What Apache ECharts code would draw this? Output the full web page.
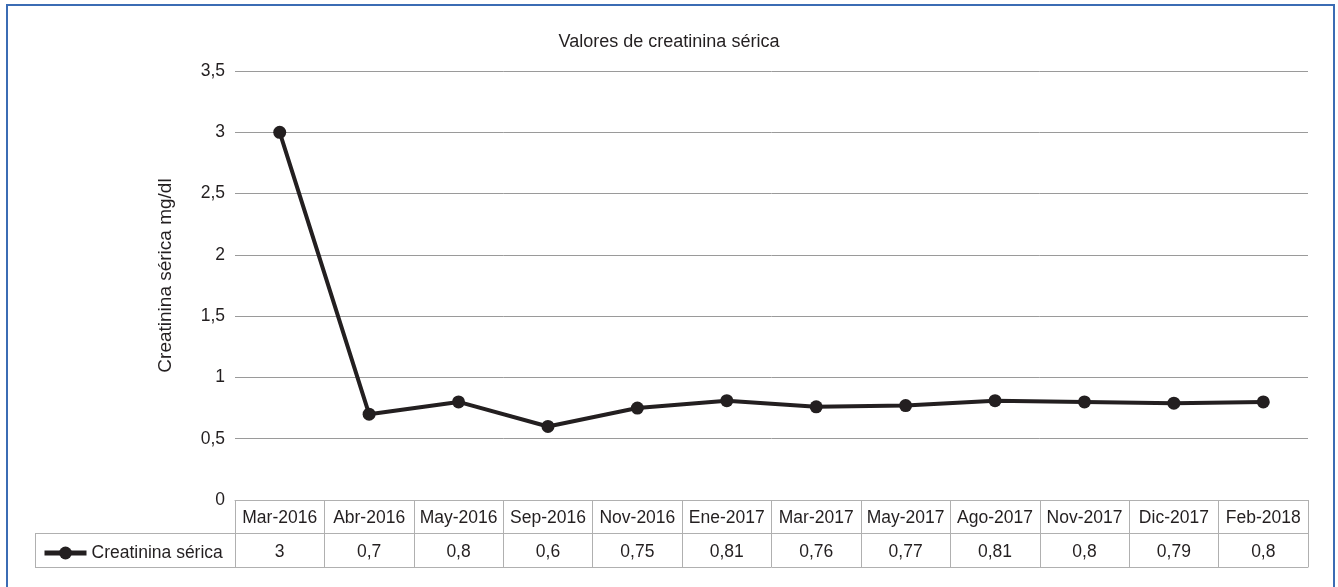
<!DOCTYPE html>
<html>
<head>
<meta charset="utf-8">
<script src="https://cdn.jsdelivr.net/npm/echarts@6/dist/echarts.min.js"></script>
<style>
  html, body { margin: 0; padding: 0; background: #fff; }
  #chart { width: 1338px; height: 587px; }
</style>
</head>
<body>
<div id="chart"></div>
<script>
var categorias = ['Mar-2016', 'Abr-2016', 'May-2016', 'Sep-2016', 'Nov-2016', 'Ene-2017',
  'Mar-2017', 'May-2017', 'Ago-2017', 'Nov-2017', 'Dic-2017', 'Feb-2018']
var creatinina = [3, 0.7, 0.8, 0.6, 0.75, 0.81, 0.76, 0.77, 0.81, 0.8, 0.79, 0.8]
var serieNombre = 'Creatinina sérica'

var coma = function (v) { return String(v).replace('.', ',') }
var fuente = 'Liberation Sans, Arial, sans-serif'
var gris = '#b0b0b0'
var texto = '#231f20'

var myChart = echarts.init(document.getElementById('chart'))

var option = {
  animation: false,
  textStyle: { fontFamily: fuente },
  title: {
    text: 'Valores de creatinina sérica',
    left: 'center',
    top: 28,
    textStyle: { fontSize: 18, fontWeight: 'normal', color: texto, fontFamily: fuente }
  },
  legend: {
    data: [serieNombre],
    left: 37,
    top: 539,
    itemWidth: 42,
    itemHeight: 16,
    itemGap: 4,
    lineStyle: { width: 5 },
    textStyle: { fontSize: 17.5, color: texto, fontFamily: fuente }
  },
  grid: { left: 235, right: 30, top: 71, bottom: 87, containLabel: false },
  xAxis: [
    {
      type: 'category',
      data: categorias,
      position: 'bottom',
      axisLine: { show: true, lineStyle: { color: gris, width: 1 } },
      axisTick: { show: true, alignWithLabel: false, length: 67, lineStyle: { color: gris } },
      axisLabel: { fontSize: 17.5, color: texto, margin: 9, interval: 0 }
    },
    {
      // fila de valores de la tabla
      type: 'category',
      data: creatinina.map(coma),
      position: 'bottom',
      offset: 33,
      axisLine: { show: true, lineStyle: { color: gris, width: 1 } },
      axisTick: { show: false },
      axisLabel: { fontSize: 17.5, color: texto, margin: 10, interval: 0 }
    },
    {
      type: 'category',
      data: categorias,
      position: 'bottom',
      offset: 67,
      axisLine: { show: true, lineStyle: { color: gris, width: 1 } },
      axisTick: { show: false },
      axisLabel: { show: false }
    }
  ],
  yAxis: {
    type: 'value',
    min: 0,
    max: 3.5,
    interval: 0.5,
    name: 'Creatinina sérica mg/dl',
    nameLocation: 'middle',
    nameRotate: 90,
    nameGap: 60,
    nameTextStyle: { fontSize: 19, color: texto, padding: [0, 0, 0, 20] },
    axisLine: { show: false },
    axisTick: { show: false },
    axisLabel: { fontSize: 17.5, color: texto, margin: 10, formatter: coma },
    splitLine: { lineStyle: { color: '#9a9a9a', width: 1 } }
  },
  series: [{
    name: serieNombre,
    type: 'line',
    data: creatinina,
    symbol: 'circle',
    symbolSize: 13,
    lineStyle: { color: '#231f20', width: 4 },
    itemStyle: { color: '#231f20' }
  }],
  graphic: [
    // celda de la leyenda
    { type: 'line', shape: { x1: 35, y1: 533.5, x2: 235, y2: 533.5 }, style: { stroke: gris, lineWidth: 1 } },
    { type: 'line', shape: { x1: 35, y1: 567.5, x2: 235, y2: 567.5 }, style: { stroke: gris, lineWidth: 1 } },
    { type: 'line', shape: { x1: 35.5, y1: 533, x2: 35.5, y2: 568 }, style: { stroke: gris, lineWidth: 1 } },
    // marco exterior
    { type: 'rect', shape: { x: 7, y: 5, width: 1327, height: 600 }, style: { fill: 'none', stroke: '#3b6cb4', lineWidth: 2 } }
  ]
}

myChart.setOption(option)
</script>
</body>
</html>
